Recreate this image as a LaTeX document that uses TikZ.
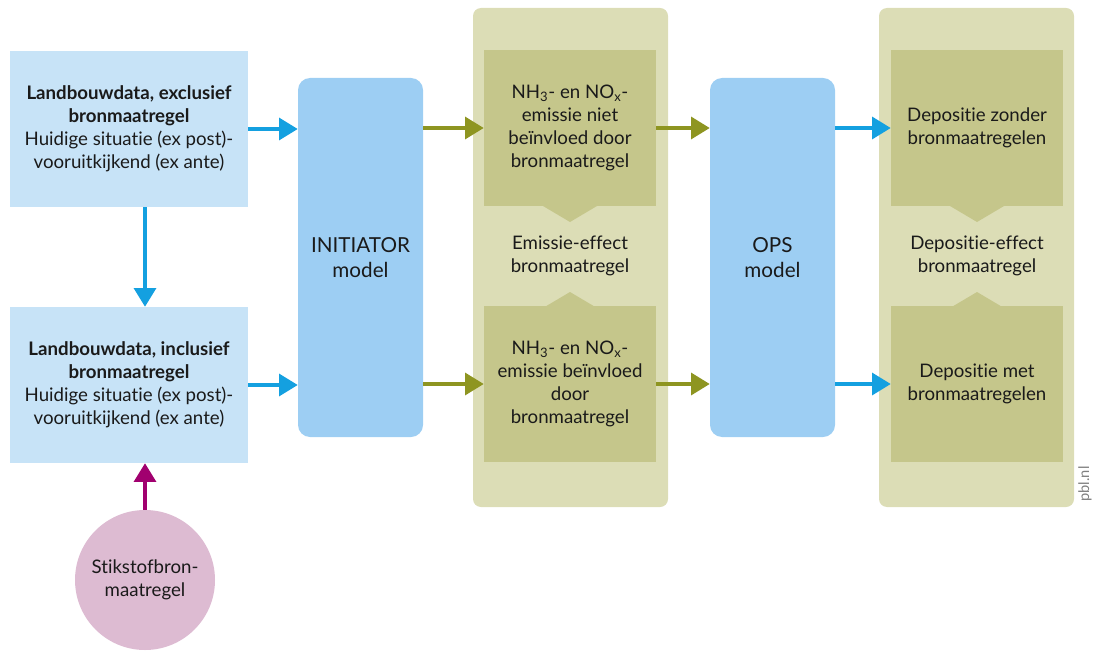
\documentclass[tikz,border=0pt]{standalone}
\usepackage{fontspec}
\setmainfont{Lato}[Ligatures={NoCommon}]
\usetikzlibrary{arrows.meta}
\definecolor{lblue}{HTML}{C7E3F7}
\definecolor{mblue}{HTML}{9DCEF3}
\definecolor{ablue}{HTML}{14A0E0}
\definecolor{panel}{HTML}{DCDDB6}
\definecolor{inner}{HTML}{C5C68B}
\definecolor{olive}{HTML}{8E9521}
\definecolor{pink}{HTML}{DDBBD2}
\definecolor{purple}{HTML}{A1006F}
\definecolor{txt}{HTML}{1A1A1A}
\begin{document}
\begin{tikzpicture}[x=0.75pt,y=-0.75pt,
  every node/.style={font=\fontsize{14}{17.3}\selectfont, text=txt, align=center},
  databox/.style={fill=lblue, minimum width=178.5pt, minimum height=117pt, inner sep=0pt},
  modelbox/.style={fill=mblue, rounded corners=9pt, minimum width=93.75pt, minimum height=269.25pt, inner sep=0pt, font=\fontsize{15.5}{18.5}\selectfont},
  panelbox/.style={fill=panel, rounded corners=6pt, minimum width=146.25pt, minimum height=374.25pt, inner sep=0pt},
  innerbox/.style={fill=inner, minimum width=129pt, minimum height=117pt, inner sep=0pt},
  arr/.style={line width=2.4pt, -{Triangle[length=14pt,width=16.5pt]}},
  barr/.style={arr, draw=ablue},
  oarr/.style={arr, draw=olive},
  parr/.style={arr, draw=purple},
]
\useasboundingbox (0,0) rectangle (1094,659);

% panels
\node[panelbox] (P1) at (570.5,257.5) {};
\node[panelbox] (P2) at (976.5,257.5) {};

% chevrons
\fill[inner] (543,206) -- (570,222) -- (597,206) -- cycle;
\fill[inner] (543,308) -- (570,292) -- (597,308) -- cycle;
\fill[inner] (950,206) -- (977,222) -- (1004,206) -- cycle;
\fill[inner] (950,308) -- (977,292) -- (1004,308) -- cycle;

% data boxes
\node[databox] (A) at (129,129) {\textbf{Landbouwdata, exclusief}\\\textbf{bronmaatregel}\\Huidige situatie (ex post)-\\vooruitkijkend (ex ante)};
\node[databox] (B) at (129,385) {\textbf{Landbouwdata, inclusief}\\\textbf{bronmaatregel}\\Huidige situatie (ex post)-\\vooruitkijkend (ex ante)};

% models
\node[modelbox] (I) at (360.5,257.5) {INITIATOR\\model};
\node[modelbox] (O) at (772.5,257.5) {OPS\\model};

% inner boxes
\node[innerbox] (E1) at (570,128) {NH\textsubscript{3}- en NO\textsubscript{x}-\\emissie niet\\beïnvloed door\\bronmaatregel};
\node[innerbox] (E2) at (570,384) {NH\textsubscript{3}- en NO\textsubscript{x}-\\emissie beïnvloed\\door\\bronmaatregel};
\node (EE) at (570,256) {Emissie-effect\\bronmaatregel};

\node[innerbox] (D1) at (977,128) {Depositie zonder\\bronmaatregelen};
\node[innerbox] (D2) at (977,384) {Depositie met\\bronmaatregelen};
\node (DE) at (977,256) {Depositie-effect\\bronmaatregel};

% circle
\node[circle, fill=pink, minimum size=105pt, inner sep=0pt] (C) at (145,580) {Stikstofbron-\\maatregel};

% arrows
\draw[barr] (A.south -| C.north) -- (B.north -| C.north);
\draw[barr] (A.east) -- (A.east -| I.west);
\draw[barr] (B.east) -- (B.east -| I.west);
\draw[oarr] (I.east |- E1.west) -- (E1.west);
\draw[oarr] (I.east |- E2.west) -- (E2.west);
\draw[oarr] (E1.east) -- (E1.east -| O.west);
\draw[oarr] (E2.east) -- (E2.east -| O.west);
\draw[barr] (O.east |- D1.west) -- (D1.west);
\draw[barr] (O.east |- D2.west) -- (D2.west);
\draw[parr] (C.north) -- (C.north |- B.south);

\node[rotate=90, font=\fontsize{11}{12}\selectfont, text=gray] (pbl) at (1085,484) {pbl.nl};
\end{tikzpicture}
\end{document}
